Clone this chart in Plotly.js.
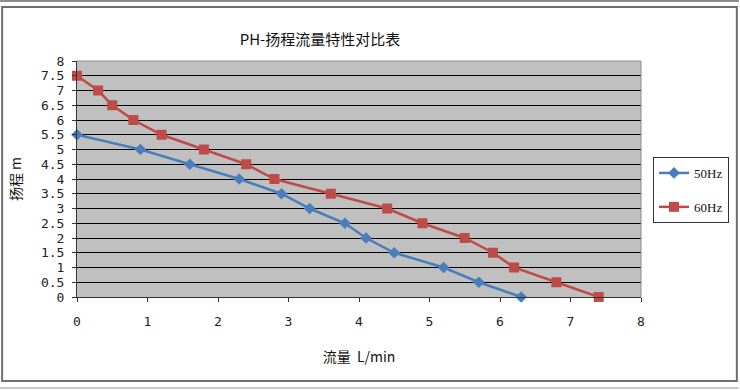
<!DOCTYPE html>
<html>
<head>
<meta charset="utf-8">
<script src="https://cdn.plot.ly/plotly-3.0.1.min.js"></script>
<style>
html,body{margin:0;padding:0;background:#fff;}
#chart{width:740px;height:390px;}
</style>
</head>
<body>
<div id="chart"></div>
<script>
// Data
const flow50 = [0, 0.9, 1.6, 2.3, 2.9, 3.3, 3.8, 4.1, 4.5, 5.2, 5.7, 6.3];
const head50 = [5.5, 5, 4.5, 4, 3.5, 3, 2.5, 2, 1.5, 1, 0.5, 0];
const flow60 = [0, 0.3, 0.5, 0.8, 1.2, 1.8, 2.4, 2.8, 3.6, 4.4, 4.9, 5.5, 5.9, 6.2, 6.8, 7.4];
const head60 = [7.5, 7, 6.5, 6, 5.5, 5, 4.5, 4, 3.5, 3, 2.5, 2, 1.5, 1, 0.5, 0];
const seriesNames = ["50Hz", "60Hz"];
const xTicks = [0, 1, 2, 3, 4, 5, 6, 7, 8];
const yTicks = [0, 0.5, 1, 1.5, 2, 2.5, 3, 3.5, 4, 4.5, 5, 5.5, 6, 6.5, 7, 7.5, 8];
const titleText = "PH-扬程流量特性对比表";
const xTitle = "流量&nbsp;&nbsp;L/min";
const yTitle = "扬程 m";

// Plot area geometry (pixels)
const L = 77, R = 642, T = 61, B = 297;
const W = R - L, H = B - T;
const px = v => (v - L) / W;
const py = v => (B - v) / H;

const traces = [
  {
    x: flow50, y: head50, name: seriesNames[0], type: "scatter", mode: "lines+markers",
    line: {color: "#4A7EBB", width: 2.5},
    marker: {symbol: "diamond", size: 9, color: "#4A7EBB"},
    cliponaxis: false, legendgroup: "a"
  },
  {
    x: flow60, y: head60, name: seriesNames[1], type: "scatter", mode: "lines+markers",
    line: {color: "#BE4B48", width: 2.5},
    marker: {symbol: "square", size: 10, color: "#BE4B48"},
    cliponaxis: false, legendgroup: "b"
  }
];

const tickFont = {family: "DejaVu Sans Mono, monospace", size: 13, color: "#222"};

const layout = {
  width: 740, height: 390,
  margin: {l: L, r: 740 - R, t: T, b: 390 - B, pad: 0},
  paper_bgcolor: "#ffffff",
  plot_bgcolor: "#C0C0C0",
  showlegend: true,
  title: {
    text: titleText,
    font: {family: "Noto Sans CJK SC", size: 15, color: "#111"},
    x: 320 / 740, xanchor: "center", y: 1 - 40 / 390, yanchor: "middle"
  },
  xaxis: {
    range: [0, 8], tickvals: xTicks, ticktext: xTicks.map(String),
    showgrid: false, zeroline: false,
    showline: true, linecolor: "#333", linewidth: 1,
    ticks: "outside", ticklen: 4, tickcolor: "#333",
    ticklabelstandoff: 8,
    tickfont: tickFont, fixedrange: true,
    title: {text: xTitle, font: {family: "Noto Sans CJK SC", size: 14, color: "#111"}, standoff: 24}
  },
  yaxis: {
    range: [0, 8], tickvals: yTicks, ticktext: yTicks.map(String),
    showgrid: true, gridcolor: "#000000", gridwidth: 1,
    zeroline: false,
    showline: true, linecolor: "#333", linewidth: 1,
    ticks: "outside", ticklen: 4, tickcolor: "#333",
    ticklabelstandoff: 5,
    tickfont: tickFont, fixedrange: true,
    title: {text: yTitle, font: {family: "Noto Sans CJK SC", size: 14, color: "#111"}, standoff: 16}
  },
  legend: {
    x: px(653), xanchor: "left", y: py(157), yanchor: "top",
    bgcolor: "#ffffff", bordercolor: "#333", borderwidth: 1,
    font: {family: "Liberation Serif, serif", size: 13, color: "#111"},
    tracegroupgap: 14, traceorder: "grouped"
  },
  shapes: [
    {type: "line", xref: "paper", yref: "paper", x0: 0, x1: 1, y0: 1, y1: 1, line: {color: "#8C8C8C", width: 1}},
    {type: "line", xref: "paper", yref: "paper", x0: 1, x1: 1, y0: 0, y1: 1, line: {color: "#8C8C8C", width: 1}},
    {type: "rect", xref: "paper", yref: "paper", x0: px(2), x1: px(738), y0: py(381), y1: py(7), line: {color: "#6E6E6E", width: 2}},
    {type: "line", xref: "paper", yref: "paper", x0: px(0), x1: px(740), y0: py(1), y1: py(1), line: {color: "#8C8C8C", width: 2}},
    {type: "line", xref: "paper", yref: "paper", x0: px(0), x1: px(740), y0: py(388), y1: py(388), line: {color: "#8C8C8C", width: 1}}
  ]
};

Plotly.newPlot("chart", traces, layout, {displayModeBar: false, staticPlot: true});
</script>
</body>
</html>
